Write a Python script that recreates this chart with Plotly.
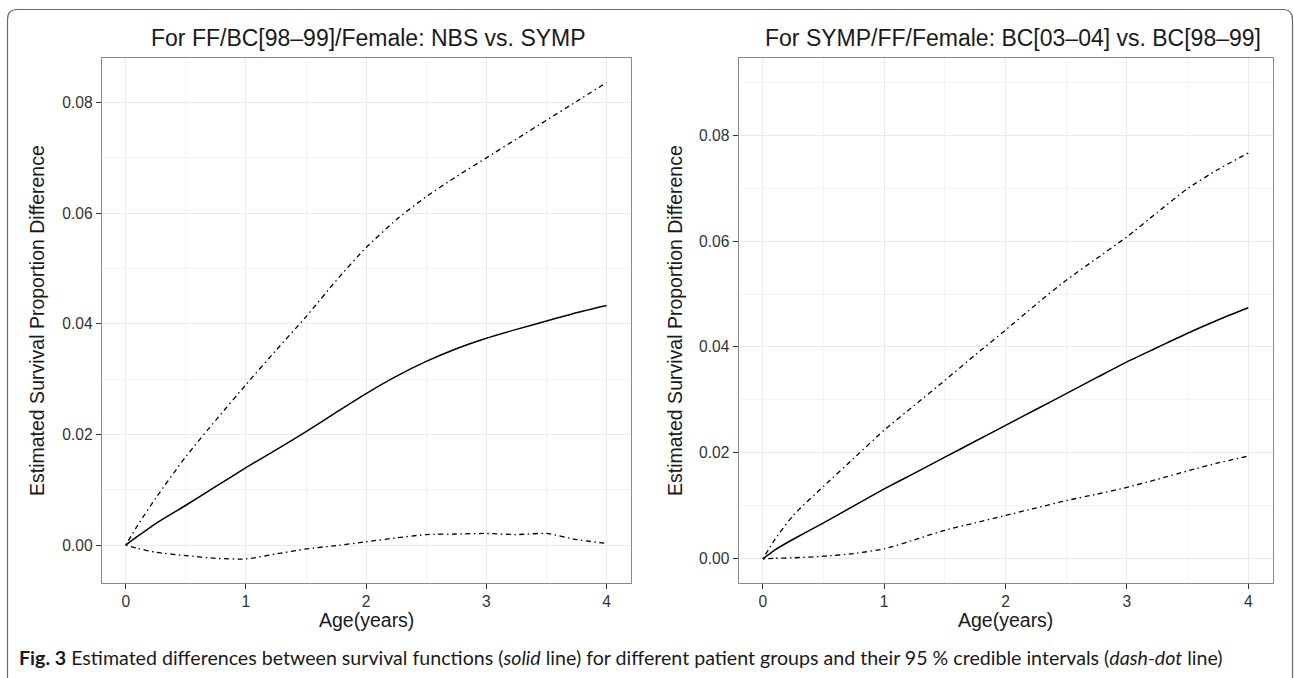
import plotly.graph_objects as go

# ---- data ----
age = [0, 0.1, 0.25, 0.5, 0.75, 1, 1.25, 1.5, 1.75, 2, 2.25, 2.5, 2.75, 3, 3.25, 3.5, 3.75, 4]

# Left panel: For FF/BC[98-99]/Female: NBS vs. SYMP
left_est = [0, 0.0016, 0.0039, 0.0072, 0.0106, 0.0140, 0.0172, 0.0205, 0.0240, 0.0274,
            0.0305, 0.0332, 0.0355, 0.0374, 0.0390, 0.0405, 0.0420, 0.0433]
left_upper = [0, 0.0036, 0.0085, 0.0160, 0.0226, 0.0290, 0.0352, 0.0413, 0.0478, 0.0538,
              0.0588, 0.0630, 0.0666, 0.0700, 0.0734, 0.0768, 0.0802, 0.0836]
left_lower = [0, -0.0006, -0.0013, -0.0019, -0.0024, -0.0025, -0.0016, -0.0007, -0.0001, 0.0006,
              0.0013, 0.0019, 0.0020, 0.0021, 0.0019, 0.0021, 0.0010, 0.0003]

# Right panel: For SYMP/FF/Female: BC[03-04] vs. BC[98-99]
right_est = [0, 0.0017, 0.0037, 0.0068, 0.0100, 0.0132, 0.0162, 0.0192, 0.0222, 0.0252,
             0.0282, 0.0312, 0.0342, 0.0372, 0.0399, 0.0426, 0.0451, 0.0474]
right_upper = [0, 0.0037, 0.0082, 0.0137, 0.0190, 0.0243, 0.0290, 0.0337, 0.0385, 0.0432,
               0.0480, 0.0526, 0.0567, 0.0608, 0.0654, 0.0699, 0.0735, 0.0766]
right_lower = [0, 0.0001, 0.0002, 0.0005, 0.0010, 0.0019, 0.0036, 0.0054, 0.0068, 0.0082,
               0.0096, 0.0110, 0.0122, 0.0135, 0.0150, 0.0166, 0.0181, 0.0194]

x_ticks = [0, 1, 2, 3, 4]
y_ticks = [0.00, 0.02, 0.04, 0.06, 0.08]
titles = ["For FF/BC[98\u201399]/Female: NBS vs. SYMP",
          "For SYMP/FF/Female: BC[03\u201304] vs. BC[98\u201399]"]
x_label = "Age(years)"
y_label = "Estimated Survival Proportion Difference"
caption = ("<b>Fig. 3</b> Estimated differences between survival functions (<i>solid</i> line) "
           "for different patient groups and their 95 % credible intervals (<i>dash-dot</i> line)")

# ---- layout geometry ----
W, H = 1294, 678
def px(x):
    return x / W
def py(y):
    return 1 - y / H

DASHDOT = "1.5px,3.5px,5px,3.5px"
FONT = "Liberation Sans, Arial, sans-serif"

fig = go.Figure()

panels = [
    ("x", "y", left_est, left_upper, left_lower),
    ("x2", "y2", right_est, right_upper, right_lower),
]
for xa, ya, est, up, lo in panels:
    for vals, dash, w in [(up, DASHDOT, 1.3), (lo, DASHDOT, 1.3), (est, "solid", 1.5)]:
        fig.add_trace(go.Scatter(x=age, y=vals, xaxis=xa, yaxis=ya, mode="lines",
                                 line=dict(color="black", width=w, dash=dash,
                                           shape="spline", smoothing=0.6),
                                 showlegend=False, hoverinfo="skip"))

common_axis = dict(
    showline=True, mirror=True, linecolor="#8a8a8a", linewidth=1,
    ticks="outside", ticklen=5, tickwidth=1, tickcolor="#333333",
    tickfont=dict(family=FONT, size=15.6, color="#333333"),
    showgrid=True, gridcolor="#ebebeb", gridwidth=1, zeroline=False,
)

left_x = [px(101.7), px(630.6)]
right_x = [px(738.6), px(1272.5)]
ydom = [py(582.7), py(58.3)]

fig.update_layout(
    width=W, height=H,
    margin=dict(l=0, r=0, t=0, b=0),
    paper_bgcolor="white", plot_bgcolor="white",
    xaxis=dict(domain=left_x, range=[-0.2, 4.2], tickvals=x_ticks, anchor="y",
               minor=dict(tickvals=[0.5, 1.5, 2.5, 3.5], showgrid=True, gridcolor="#f4f4f4", ticks=""),
               **common_axis),
    yaxis=dict(domain=ydom, range=[-0.0068, 0.0880], tickvals=y_ticks, tickformat=".2f", anchor="x",
               minor=dict(tickvals=[0.01, 0.03, 0.05, 0.07], showgrid=True, gridcolor="#f4f4f4", ticks=""),
               **common_axis),
    xaxis2=dict(domain=right_x, range=[-0.2, 4.2], tickvals=x_ticks, anchor="y2",
                minor=dict(tickvals=[0.5, 1.5, 2.5, 3.5], showgrid=True, gridcolor="#f4f4f4", ticks=""),
                **common_axis),
    yaxis2=dict(domain=ydom, range=[-0.0045, 0.0945], tickvals=y_ticks, tickformat=".2f", anchor="x2",
                minor=dict(tickvals=[0.01, 0.03, 0.05, 0.07, 0.09], showgrid=True, gridcolor="#f4f4f4", ticks=""),
                **common_axis),
)

ann = []
# panel titles
ann.append(dict(text=titles[0], x=px(368.8), y=py(38), xref="paper", yref="paper",
                showarrow=False, xanchor="center", yanchor="middle",
                font=dict(family=FONT, size=23, color="#1a1a1a")))
ann.append(dict(text=titles[1], x=px(1013), y=py(38), xref="paper", yref="paper",
                showarrow=False, xanchor="center", yanchor="middle",
                font=dict(family=FONT, size=23, color="#1a1a1a")))
# x titles
for cx in [366.2, 1005.5]:
    ann.append(dict(text=x_label, x=px(cx), y=py(620), xref="paper", yref="paper",
                    showarrow=False, xanchor="center", yanchor="middle",
                    font=dict(family=FONT, size=19.5, color="#1a1a1a")))
# y titles
for cx in [37, 675]:
    ann.append(dict(text=y_label, x=px(cx), y=py(321), xref="paper", yref="paper",
                    showarrow=False, xanchor="center", yanchor="middle", textangle=-90,
                    font=dict(family=FONT, size=19.5, color="#1a1a1a")))
# caption
ann.append(dict(text=caption, x=px(17), y=py(657), xref="paper", yref="paper",
                showarrow=False, xanchor="left", yanchor="middle",
                font=dict(family="Lato, sans-serif", size=19.6, color="#1a1a1a")))
fig.update_layout(annotations=ann)

# outer rounded frame (bottom runs off the page)
x0, x1, yt, yb, r = 7.5, 1292.5, 9.5, 700, 10
path = (f"M {px(x0)},{py(yb)} L {px(x0)},{py(yt + r)} Q {px(x0)},{py(yt)} {px(x0 + r)},{py(yt)} "
        f"L {px(x1 - r)},{py(yt)} Q {px(x1)},{py(yt)} {px(x1)},{py(yt + r)} L {px(x1)},{py(yb)}")
fig.add_shape(type="path", path=path, xref="paper", yref="paper",
              line=dict(color="#6a6a6a", width=1.2))

fig.write_html("out.html")
